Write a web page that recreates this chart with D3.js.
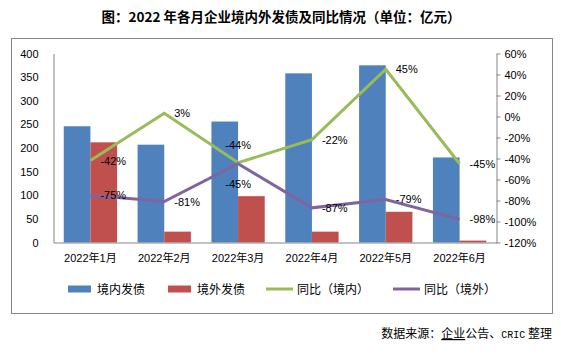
<!DOCTYPE html>
<html><head><meta charset="utf-8">
<script src="https://cdn.jsdelivr.net/npm/d3@7/dist/d3.min.js"></script>
<style>
html,body{margin:0;padding:0;background:#fff;}
text{font-family:"Liberation Sans","Noto Sans CJK SC",sans-serif;}
.cjk{font-family:"Noto Sans CJK SC","Liberation Sans",sans-serif;}
</style></head>
<body><svg id="c" width="561" height="355"></svg>
<script>
const months = ["2022年1月","2022年2月","2022年3月","2022年4月","2022年5月","2022年6月"];
const domestic = [246, 207, 256, 358, 375, 180];
const overseas = [212, 23, 98, 23, 65, 4];
const yoyDomestic = [-42, 3, -44, -22, 45, -45];
const yoyOverseas = [-75, -81, -45, -87, -79, -98];
const labelPosDomestic = ["right","right","above","right","right","right"];
const labelPosOverseas = ["right","right","below","right","right","right"];
const leftTicks = [0,50,100,150,200,250,300,350,400];
const rightTicks = [-120,-100,-80,-60,-40,-20,0,20,40,60];
const seriesNames = ["境内发债","境外发债","同比（境内）","同比（境外）"];
const colors = {blue:"#4F81BD", red:"#C0504D", green:"#9BBB59", purple:"#8064A2", axis:"#868686"};

const svg = d3.select("#c");
const L = 53.5, R = 496.5, T = 53.5, B = 242.5;

// title
svg.append("text").attr("class","cjk").attr("x",281).attr("y",22)
  .attr("text-anchor","middle").attr("font-size",13.5).attr("font-weight","bold")
  .text("图：2022 年各月企业境内外发债及同比情况（单位：亿元）");

// outer box
svg.append("rect").attr("x",11.5).attr("y",38.5).attr("width",541).attr("height",275)
  .attr("fill","none").attr("stroke",colors.axis).attr("stroke-width",1);

const x = d3.scaleBand().domain(months).range([L,R]).padding(0);
const bw = x.bandwidth();
const xi = d3.scaleBand().domain(["d","o"]).range([bw*0.139, bw*0.861]).padding(0);
const y = d3.scaleLinear().domain([0,400]).range([B,T]);
const y2 = d3.scaleLinear().domain([-120,60]).range([B,T]);

// bars
const g = svg.append("g");
g.selectAll(".bd").data(domestic).enter().append("rect")
  .attr("x",(d,i)=>x(months[i])+xi("d")).attr("width",xi.bandwidth())
  .attr("y",d=>y(d)).attr("height",d=>y(0)-y(d)).attr("fill",colors.blue);
g.selectAll(".bo").data(overseas).enter().append("rect")
  .attr("x",(d,i)=>x(months[i])+xi("o")).attr("width",xi.bandwidth())
  .attr("y",d=>y(d)).attr("height",d=>y(0)-y(d)).attr("fill",colors.red);

// axes
const la = svg.append("g").attr("transform",`translate(${L},0)`)
  .call(d3.axisLeft(y).tickValues(leftTicks).tickSize(0).tickPadding(15));
la.select(".domain").attr("stroke",colors.axis);
la.selectAll("text").attr("font-size",11).attr("fill","#000").attr("font-family","Liberation Sans");

const ra = svg.append("g").attr("transform",`translate(${R},0)`)
  .call(d3.axisRight(y2).tickValues(rightTicks).tickSize(4).tickSizeOuter(0).tickPadding(4).tickFormat(d=>d+"%"));
ra.select(".domain").attr("stroke",colors.axis);
ra.selectAll("line").attr("stroke",colors.axis);
ra.selectAll("text").attr("font-size",11).attr("fill","#000").attr("font-family","Liberation Sans");

const ba = svg.append("g").attr("transform",`translate(0,${B})`)
  .call(d3.axisBottom(x).tickSize(0).tickSizeOuter(0).tickPadding(12));
ba.select(".domain").attr("stroke",colors.axis);
ba.selectAll("text").attr("font-size",11).attr("fill","#000")
  .attr("font-family","Liberation Sans, Noto Sans CJK SC");

// lines
const cx = i => x(months[i]) + bw/2;
const line = d3.line().x((d,i)=>cx(i)).y(d=>y2(d));
svg.append("path").datum(yoyDomestic).attr("d",line).attr("fill","none")
  .attr("stroke",colors.green).attr("stroke-width",3);
svg.append("path").datum(yoyOverseas).attr("d",line).attr("fill","none")
  .attr("stroke",colors.purple).attr("stroke-width",3);

function labels(vals, pos){
  svg.append("g").selectAll("text").data(vals).enter().append("text")
    .attr("font-size",11).attr("fill","#000")
    .attr("x",(d,i)=> pos[i]==="right" ? cx(i)+10 : cx(i))
    .attr("y",(d,i)=> pos[i]==="right" ? y2(d)+4 : pos[i]==="above" ? y2(d)-14 : y2(d)+24)
    .attr("text-anchor",(d,i)=> pos[i]==="right" ? "start" : "middle")
    .text(d=>d+"%");
}
labels(yoyDomestic, labelPosDomestic);
labels(yoyOverseas, labelPosOverseas);

// legend
const lg = svg.append("g").attr("transform","translate(0,289)");
const legX = [68, 168, 266, 393];
const legCol = [colors.blue, colors.red, colors.green, colors.purple];
seriesNames.forEach((n,i)=>{
  if(i<2) lg.append("rect").attr("x",legX[i]).attr("y",-3.5).attr("width",23).attr("height",7).attr("fill",legCol[i]);
  else lg.append("line").attr("x1",legX[i]).attr("x2",legX[i]+27).attr("y1",0).attr("y2",0)
        .attr("stroke",legCol[i]).attr("stroke-width",3);
  lg.append("text").attr("class","cjk").attr("x",legX[i]+(i<2?29:31)).attr("y",4.5)
    .attr("font-size",12).attr("fill","#000").text(n);
});

// footer
const ft = svg.append("text").attr("class","cjk").attr("x",552).attr("y",338)
  .attr("text-anchor","end").attr("font-size",12).attr("fill","#000");
ft.append("tspan").text("数据来源：");
ft.append("tspan").attr("text-decoration","underline").text("企业");
ft.append("tspan").text("公告、");
ft.append("tspan").attr("font-family","Liberation Mono").attr("font-size",10).text("CRIC");
ft.append("tspan").text(" 整理");
</script></body></html>
